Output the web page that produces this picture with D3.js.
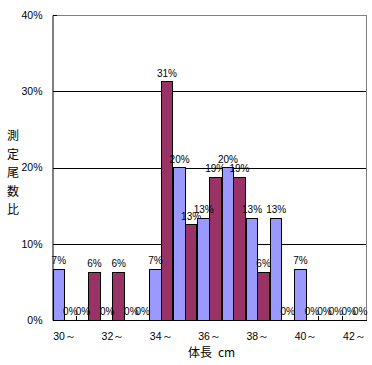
<!DOCTYPE html>
<html>
<head>
<meta charset="utf-8">
<script src="https://cdn.jsdelivr.net/npm/d3@7"></script>
<style>
  body { margin: 0; background: #fff; }
  svg { display: block; }
  text { font-family: "Liberation Sans", Arial, sans-serif; fill: #000; }
  .jp { font-family: "Noto Sans CJK JP", sans-serif; }
  line, .bar { shape-rendering: crispEdges; }
</style>
</head>
<body>
<div id="chart"></div>
<script>
// 体長階級 (cm)
var categories = ["30～","31～","32～","33～","34～","35～","36～","37～","38～","39～","40～","41～","42～"];
var seriesNames = ["A", "B"];
// 測定尾数比 (%)
var valuesA = [6.67, 0, 0, 0, 6.67, 20, 13.33, 20, 13.33, 13.33, 6.67, 0, 0];
var valuesB = [0, 6.25, 6.25, 0, 31.25, 12.5, 18.75, 18.75, 6.25, 0, 0, 0, 0];
var yTicks = [0, 10, 20, 30, 40];
var xLabels = ["30～","32～","34～","36～","38～","40～","42～"];
var colors = ["#9999ff", "#993366"];

var W = 372, H = 365;
var margin = {top: 15, right: 5.5, bottom: 45, left: 52.5},
    width = W - margin.left - margin.right,
    height = H - margin.top - margin.bottom;

var svg = d3.select("#chart").append("svg").attr("width", W).attr("height", H);
var g = svg.append("g").attr("transform", "translate(" + margin.left + "," + margin.top + ")");

var x = d3.scaleBand().domain(categories).range([0, width]).padding(0);
var xs = d3.scaleBand().domain(seriesNames).range([0, x.bandwidth()]).paddingInner(0).paddingOuter(0.05);
var y = d3.scaleLinear().domain([0, 40]).range([height, 0]);

// gridlines
g.selectAll(".grid").data(yTicks.filter(function(d){ return d > 0 && d < 40; }))
  .enter().append("line")
  .attr("x1", 0).attr("x2", width)
  .attr("y1", function(d){ return Math.round(y(d)); })
  .attr("y2", function(d){ return Math.round(y(d)); })
  .attr("stroke", "#000");

// gray frame top / right
g.append("line").attr("x1", 0).attr("x2", width).attr("y1", 0).attr("y2", 0).attr("stroke", "#808080");
g.append("line").attr("x1", width).attr("x2", width).attr("y1", 0).attr("y2", height).attr("stroke", "#808080");

// bars
var rows = categories.map(function(c, i) {
  return {cat: c, vals: [{s: "A", v: valuesA[i]}, {s: "B", v: valuesB[i]}]};
});
var grp = g.selectAll(".cat").data(rows).enter().append("g")
  .attr("transform", function(d){ return "translate(" + x(d.cat) + ",0)"; });

grp.selectAll("rect").data(function(d){ return d.vals; }).enter().append("rect")
  .attr("class", "bar")
  .attr("x", function(d){ return xs(d.s); })
  .attr("width", xs.bandwidth())
  .attr("y", function(d){ return y(d.v); })
  .attr("height", function(d){ return height - y(d.v); })
  .attr("fill", function(d, i){ return colors[i]; })
  .attr("stroke", "#000").attr("stroke-width", 1);

grp.selectAll("text").data(function(d){ return d.vals; }).enter().append("text")
  .attr("x", function(d){ return xs(d.s) + xs.bandwidth() / 2; })
  .attr("y", function(d){ return y(d.v) - 5; })
  .attr("text-anchor", "middle")
  .style("font-size", "10px")
  .text(function(d){ return d3.format(".0f")(d.v) + "%"; });

// y axis
var yAxis = g.append("g")
  .call(d3.axisLeft(y).tickValues(yTicks).tickFormat(function(d){ return d + "%"; })
    .tickSizeInner(-4).tickSizeOuter(0).tickPadding(10));
yAxis.select(".domain").attr("stroke", "#000");
yAxis.selectAll("text").style("font-size", "10.5px").style("font-family", "Liberation Sans, Arial, sans-serif");

// x axis
var xAxis = g.append("g").attr("transform", "translate(0," + height + ")")
  .call(d3.axisBottom(x).tickValues(xLabels).tickSize(0).tickPadding(13));
xAxis.select(".domain").attr("stroke", "#000");
xAxis.selectAll("text").style("font-size", "10.5px").style("font-family", "Liberation Sans, Arial, sans-serif");

// category boundary ticks
g.selectAll(".xtick").data(categories.slice(1)).enter().append("line")
  .attr("x1", function(d){ return x(d); }).attr("x2", function(d){ return x(d); })
  .attr("y1", height).attr("y2", height - 4)
  .attr("stroke", "#000");

// axis titles
g.append("text").attr("class", "jp")
  .attr("x", width / 2 + 2).attr("y", height + 37)
  .attr("text-anchor", "middle")
  .style("font-size", "12px")
  .text("体長\u2002cm");

var yTitle = "測定尾数比".split("");
svg.append("g").selectAll("text").data(yTitle).enter().append("text")
  .attr("class", "jp")
  .attr("x", 13).attr("y", function(d, i){ return 140 + i * 18.5; })
  .attr("text-anchor", "middle")
  .style("font-size", "12px")
  .text(function(d){ return d; });
</script>
</body>
</html>
